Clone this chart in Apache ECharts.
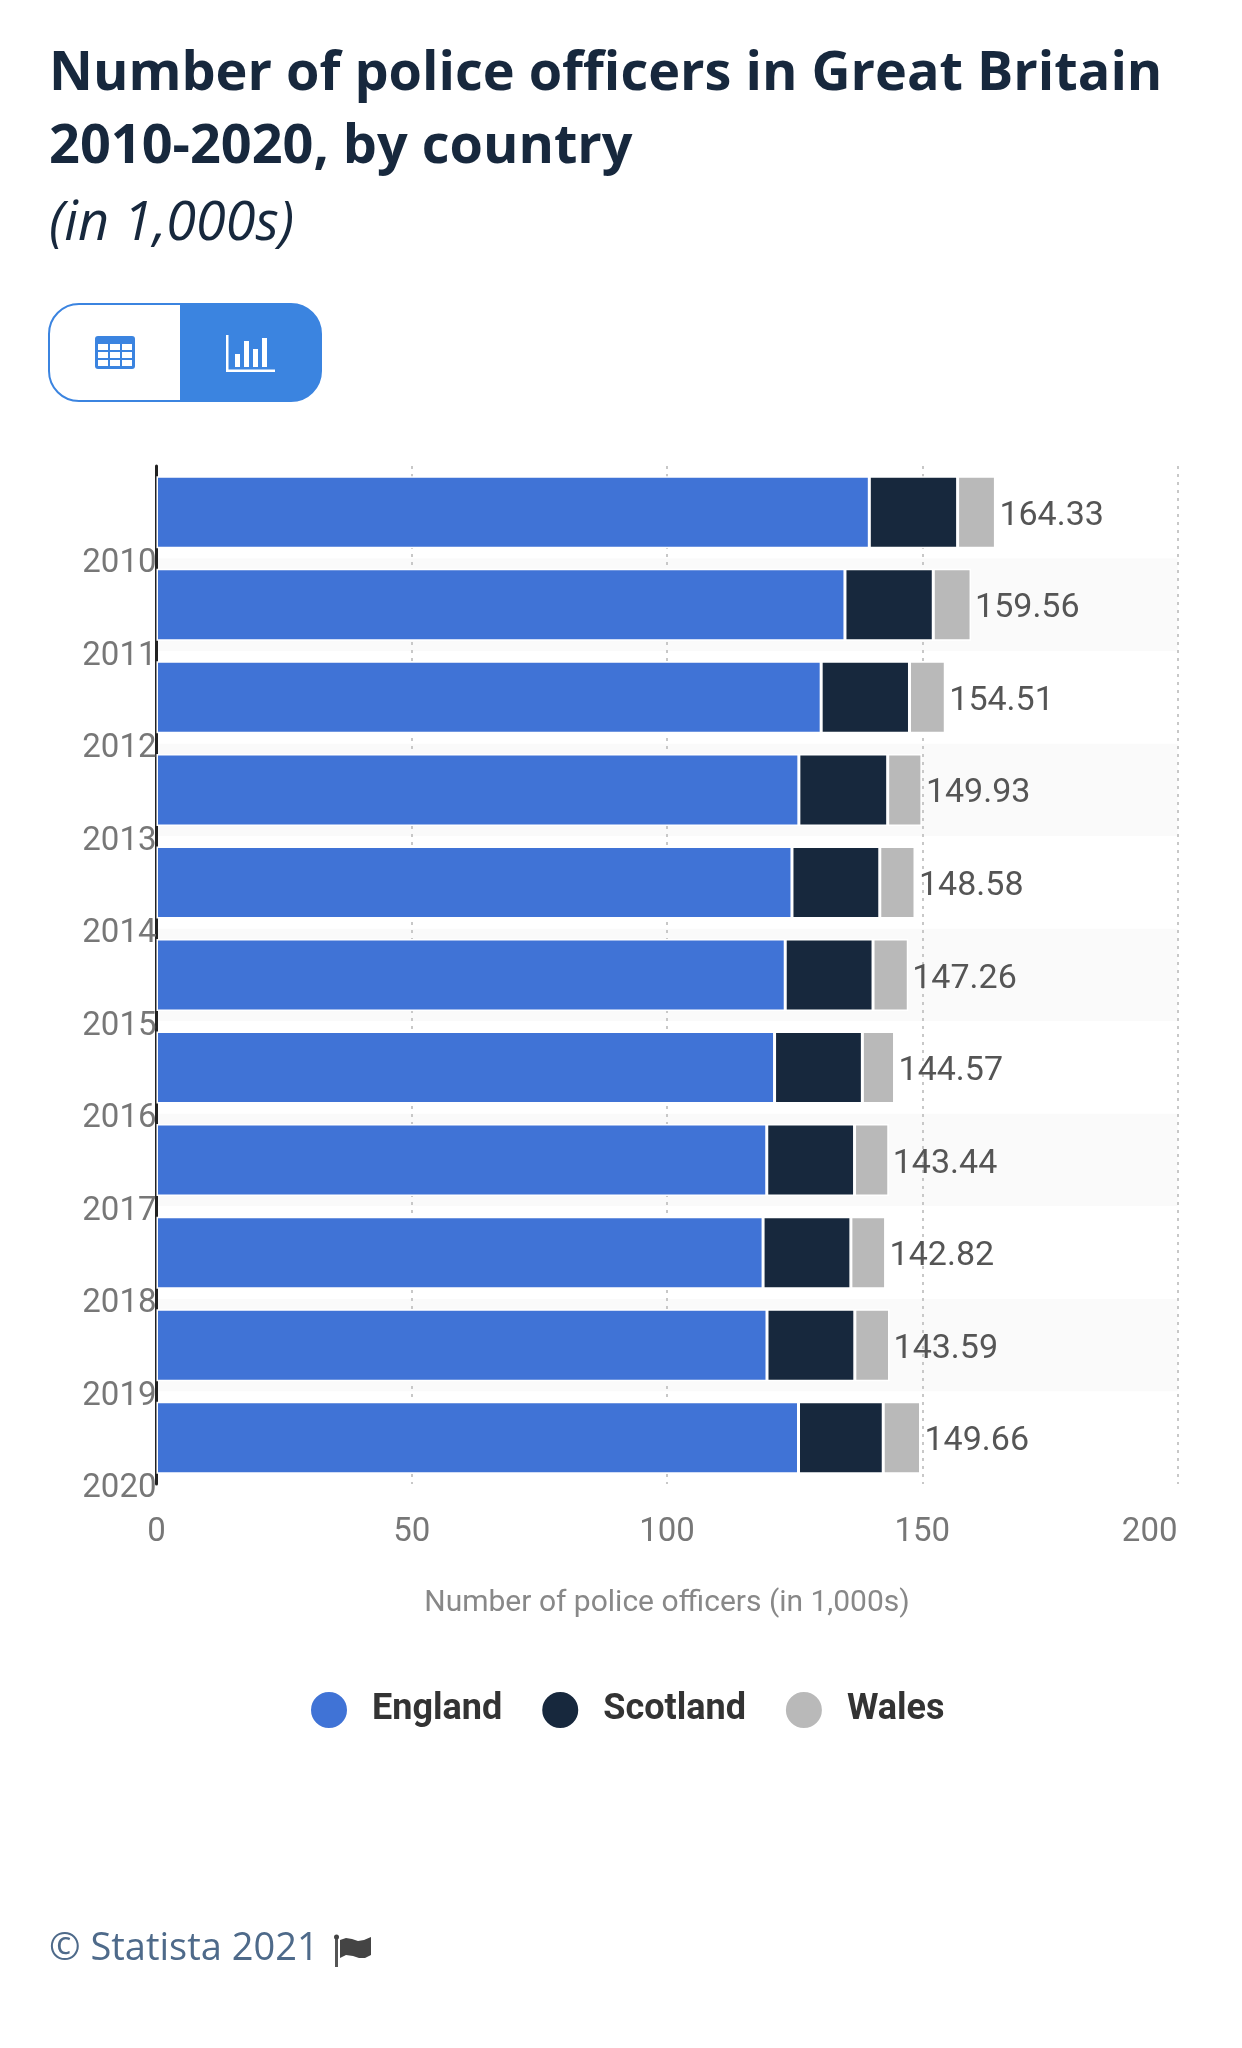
<!DOCTYPE html>
<html>
<head>
<meta charset="utf-8">
<style>
html, body { margin: 0; padding: 0; background: #fff; }
#chart { width: 1242px; height: 2048px; }
</style>
<script src="https://cdn.jsdelivr.net/npm/echarts@6/dist/echarts.min.js"></script>
</head>
<body>
<div id="chart"></div>
<script>
const years = ["2010", "2011", "2012", "2013", "2014", "2015", "2016", "2017", "2018", "2019", "2020"];
const england = [139.63, 134.86, 130.2, 125.83, 124.48, 123.16, 121.07, 119.54, 118.82, 119.59, 125.76];
const scotland = [17.3, 17.3, 17.3, 17.4, 17.2, 17.2, 17.2, 17.2, 17.2, 17.2, 16.6];
const wales = [7.4, 7.4, 7.01, 6.7, 6.9, 6.9, 6.3, 6.7, 6.8, 6.8, 7.3];
const totals = ["164.33", "159.56", "154.51", "149.93", "148.58", "147.26", "144.57", "143.44", "142.82", "143.59", "149.66"];
const titleText = "Number of police officers in Great Britain\n2010-2020, by country";
const subtitleText = "(in 1,000s)";
const axisTitle = "Number of police officers (in 1,000s)";
const sourceText = "© Statista 2021";

const BLUE = "#4073d6";
const NAVY = "#17283d";
const GREY = "#b9b9b9";
const BUTTON = "#3b84e0";

const chart = echarts.init(document.getElementById("chart"));

const makeSeries = (name, values, color, withTotal) => ({
    name,
    type: "bar",
    stack: "police",
    barWidth: 72,
    data: values,
    itemStyle: { color, borderColor: "#fff", borderWidth: 1.5 },
    label: withTotal
        ? {
              show: true,
              position: "right",
              distance: 4,
              offset: [0, 4],
              formatter: (p) => totals[p.dataIndex],
              fontFamily: "Roboto",
              fontSize: 34,
              color: "#555",
          }
        : { show: false },
});

// toggle buttons above the chart and the flag next to the source
const buttonIcons = [
    { type: "rect", shape: { x: 49, y: 304, width: 272, height: 97, r: 30 }, style: { fill: "#fff", stroke: BUTTON, lineWidth: 2 } },
    { type: "rect", shape: { x: 180, y: 304, width: 141, height: 97, r: [0, 30, 30, 0] }, style: { fill: BUTTON } },
    { type: "rect", shape: { x: 95, y: 336, width: 40, height: 33, r: 3 }, style: { fill: BUTTON } },
];
[0, 1, 2].forEach((row) => {
    [0, 1, 2].forEach((col) => {
        buttonIcons.push({
            type: "rect",
            shape: { x: 98 + col * 12, y: 344 + row * 8, width: 10, height: 6 },
            style: { fill: "#fff" },
        });
    });
});
buttonIcons.push(
    { type: "rect", shape: { x: 226, y: 335, width: 2.5, height: 37 }, style: { fill: "#fff" } },
    { type: "rect", shape: { x: 226, y: 369.5, width: 49, height: 2.5 }, style: { fill: "#fff" } },
    { type: "rect", shape: { x: 235, y: 354, width: 5, height: 13 }, style: { fill: "#fff" } },
    { type: "rect", shape: { x: 244, y: 341, width: 5, height: 26 }, style: { fill: "#fff" } },
    { type: "rect", shape: { x: 253, y: 349, width: 5, height: 18 }, style: { fill: "#fff" } },
    { type: "rect", shape: { x: 262, y: 338, width: 5, height: 29 }, style: { fill: "#fff" } },
    { type: "rect", shape: { x: 335, y: 1937, width: 3, height: 30 }, style: { fill: "#555" } },
    { type: "circle", shape: { cx: 336.5, cy: 1937, r: 2.5 }, style: { fill: "#444" } },
    {
        type: "polygon",
        shape: { points: [[340, 1940], [346, 1938], [352, 1939], [358, 1941], [364, 1940], [371, 1937], [371, 1955], [365, 1958], [359, 1958], [353, 1956], [346, 1955], [340, 1958]] },
        style: { fill: "#444" },
    }
);

chart.setOption({
    animation: false,
    backgroundColor: "#fff",
    title: [
        {
            text: titleText,
            left: 49,
            top: 38,
            padding: 0,
            textStyle: { fontFamily: "Open Sans", fontWeight: 700, fontSize: 54, lineHeight: 73, color: "#17283d" },
        },
        {
            text: subtitleText,
            left: 49,
            top: 198,
            padding: 0,
            textStyle: { fontFamily: "Open Sans", fontStyle: "italic", fontWeight: 400, fontSize: 54, color: "#17283d" },
        },
        {
            text: sourceText,
            left: 49,
            top: 1930,
            padding: 0,
            textStyle: { fontFamily: "Open Sans", fontWeight: 400, fontSize: 38, color: "#4e6a8a" },
        },
    ],
    legend: {
        left: 309,
        top: 1690,
        padding: 0,
        icon: "circle",
        itemWidth: 38,
        itemHeight: 38,
        itemGap: 38,
        textStyle: { fontFamily: "Roboto", fontWeight: 700, fontSize: 36, color: "#333", padding: [0, 0, 0, 19] },
    },
    grid: { left: 156.5, top: 466, width: 1021, height: 1018, containLabel: false },
    xAxis: {
        type: "value",
        min: 0,
        max: 200,
        interval: 50,
        axisLine: { show: false },
        axisTick: { show: false },
        splitLine: { show: true, lineStyle: { color: "#c8c8c8", width: 2, type: [3, 5] } },
        axisLabel: { fontFamily: "Roboto", fontSize: 33, color: "#777", margin: 32, alignMaxLabel: "right" },
        name: axisTitle,
        nameLocation: "middle",
        nameGap: 104,
        nameTextStyle: { fontFamily: "Roboto", fontSize: 30, color: "#888" },
    },
    yAxis: {
        type: "category",
        data: years,
        inverse: true,
        axisLine: { show: true, onZero: false, lineStyle: { color: "#222", width: 3 } },
        axisTick: { show: false },
        splitLine: { show: false },
        splitArea: { show: true, areaStyle: { color: ["#fff", "#fafafa"] } },
        axisLabel: { fontFamily: "Roboto", fontSize: 33, color: "#777", margin: 0, verticalAlign: "top", padding: [35, 0, 0, 0] },
    },
    series: [
        makeSeries("England", england, BLUE, false),
        makeSeries("Scotland", scotland, NAVY, false),
        makeSeries("Wales", wales, GREY, true),
    ],
    graphic: buttonIcons,
});
</script>
</body>
</html>
